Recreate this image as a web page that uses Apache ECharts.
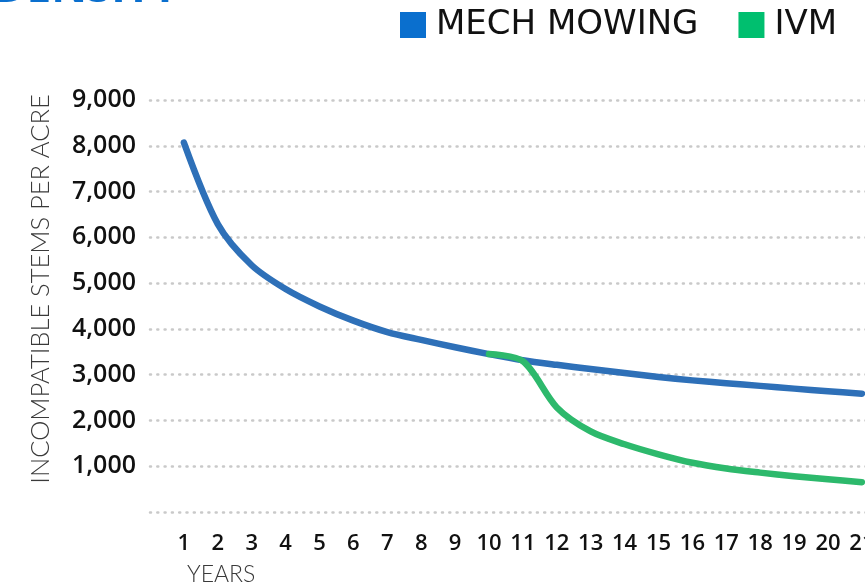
<!DOCTYPE html>
<html>
<head>
<meta charset="utf-8">
<script src="https://cdn.jsdelivr.net/npm/echarts@6/dist/echarts.min.js"></script>
<style>
  html, body { margin: 0; padding: 0; background: #ffffff; }
  #chart { width: 865px; height: 584px; }
</style>
</head>
<body>
<div id="chart"></div>
<script>
// Incompatible stems per acre over 21 years, two vegetation management approaches
const years = [1, 2, 3, 4, 5, 6, 7, 8, 9, 10, 11, 12, 13, 14, 15, 16, 17, 18, 19, 20, 21];
const mechMowing = [8070, 6290, 5390, 4870, 4490, 4180, 3930, 3760, 3600, 3450, 3315,
                    3215, 3125, 3035, 2950, 2875, 2815, 2755, 2695, 2640, 2585];
// IVM begins in year 10 at the same level, then diverges
const ivmYears = [10, 11, 12, 13, 14, 15, 16, 17, 18, 19, 20, 21];
const ivm = [3450, 3295, 2285, 1760, 1480, 1260, 1075, 950, 860, 780, 715, 650];
const yTicks = [0, 1000, 2000, 3000, 4000, 5000, 6000, 7000, 8000, 9000];

const seriesNames = ['MECH MOWING', 'IVM'];
const lineColors = ['#2e70b8', '#2db96c'];
const keyColors = ['#0a6fce', '#00bf6f'];

const chart = echarts.init(document.getElementById('chart'), null, { renderer: 'canvas' });

const fmtThousands = v => v === 0 ? '' : v.toLocaleString('en-US');

chart.setOption({
  animation: false,
  backgroundColor: '#ffffff',
  grid: {
    left: 150, top: 100, width: 22 * 33.9, height: 412,
    containLabel: false,
    outerBoundsMode: 'none'
  },
  legend: {
    left: 400,
    top: 8,
    padding: 0,
    itemWidth: 26,
    itemHeight: 26,
    itemGap: 40,
    icon: 'rect',
    textStyle: {
      fontFamily: 'DejaVu Sans',
      fontSize: 34,
      color: '#111111',
      padding: [0, 0, 0, 5]
    },
    data: seriesNames.map((n, i) => ({ name: n, itemStyle: { color: keyColors[i] } }))
  },
  xAxis: {
    type: 'value',
    min: 0,
    max: 22,
    interval: 1,
    axisLine: { show: false },
    axisTick: { show: false },
    splitLine: { show: false },
    axisLabel: {
      margin: 21,
      fontFamily: 'Open Sans',
      fontWeight: 600,
      fontSize: 22,
      color: '#111111',
      formatter: v => (years.indexOf(v) >= 0 ? String(v) : '')
    }
  },
  yAxis: {
    type: 'value',
    min: yTicks[0],
    max: yTicks[yTicks.length - 1],
    interval: 1000,
    axisLine: { show: false },
    axisTick: { show: false },
    axisLabel: {
      margin: 14,
      fontFamily: 'Open Sans',
      fontWeight: 600,
      fontSize: 25,
      color: '#111111',
      formatter: fmtThousands
    },
    splitLine: {
      show: true,
      lineStyle: { color: '#c9c9c9', width: 2.5, type: [1, 6.3], cap: 'round' }
    }
  },
  graphic: [
    {
      type: 'text',
      left: -6,
      top: -33,
      style: {
        text: 'DENSITY',
        font: 'bold 44px "Open Sans"',
        fill: '#0a6fce'
      }
    },
    {
      type: 'text',
      x: 41,
      y: 289,
      rotation: Math.PI / 2,
      style: {
        text: 'INCOMPATIBLE STEMS PER ACRE',
        font: '300 25.5px Lato',
        fill: '#3a3a3a',
        align: 'center',
        verticalAlign: 'middle'
      }
    },
    {
      type: 'text',
      x: 187,
      y: 575,
      style: {
        text: 'YEARS',
        font: '300 23px Lato',
        fill: '#3a3a3a',
        align: 'left',
        verticalAlign: 'middle'
      }
    }
  ],
  series: [
    {
      name: seriesNames[0],
      type: 'line',
      data: years.map((y, i) => [y, mechMowing[i]]),
      smooth: 0.3,
      symbol: 'none',
      color: lineColors[0],
      lineStyle: { width: 6.5, color: lineColors[0], cap: 'round', join: 'round' },
      z: 2
    },
    {
      name: seriesNames[1],
      type: 'line',
      data: ivmYears.map((y, i) => [y, ivm[i]]),
      smooth: 0.3,
      symbol: 'none',
      color: lineColors[1],
      lineStyle: { width: 6.5, color: lineColors[1], cap: 'round', join: 'round' },
      z: 3
    }
  ]
});
</script>
</body>
</html>
